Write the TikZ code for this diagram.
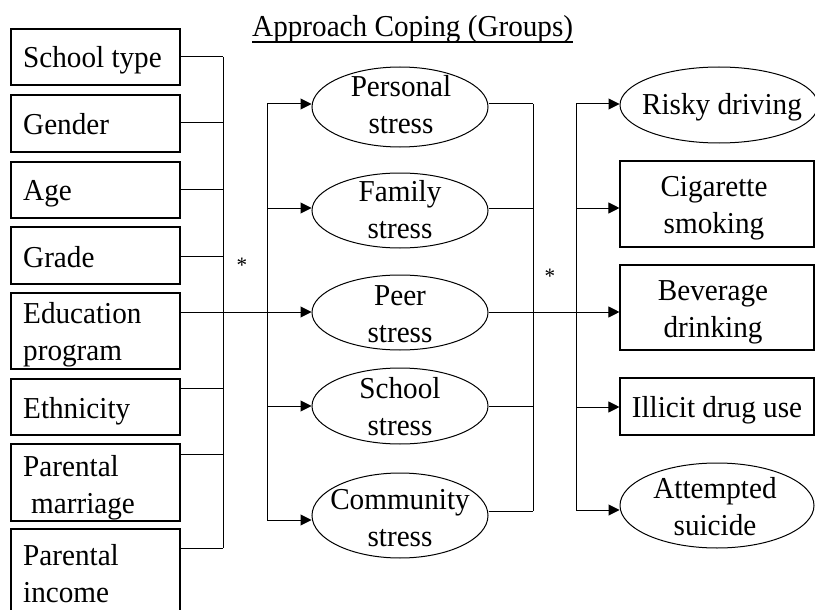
\documentclass[tikz,border=0pt]{standalone}
\usepackage{fontspec}
\setmainfont{Liberation Serif}[FakeStretch=0.96]
\usetikzlibrary{arrows.meta,shapes.geometric,calc}
\begin{document}
\begin{tikzpicture}[x=1pt,y=-1pt,
  every node/.style={font=\fontsize{30.4}{36.5}\selectfont},
  box/.style={draw,line width=1.1pt,rectangle,inner sep=0,minimum width=169pt},
  ell/.style={draw,line width=1pt,ellipse,inner sep=0},
  lbl/.style={inner sep=0,anchor=base west,align=left},
  clbl/.style={inner sep=0,anchor=base,align=center},
  starlbl/.style={inner sep=0,font=\fontsize{22}{26}\selectfont},
  wire/.style={line width=1pt},
  arr/.style={wire,-{Triangle[length=11pt,width=11pt]}}]
\useasboundingbox (0,0) rectangle (815,610);
\clip (0,0) rectangle (815,610);

% title
\node[inner sep=0,anchor=base west] (title) at (252,37) {Approach Coping (Groups)};
\draw[line width=1.3pt] ($(title.base west)+(0,5)$) -- ($(title.base east)+(0,5)$);

% left boxes
\node[box,minimum height=56pt] (st)  at (95.5,57)    {};
\node[box,minimum height=57pt] (gen) at (95.5,123.5) {};
\node[box,minimum height=56pt] (age) at (95.5,190)   {};
\node[box,minimum height=57pt] (grd) at (95.5,255.5) {};
\node[box,minimum height=76pt] (edu) at (95.5,331)   {};
\node[box,minimum height=56pt] (eth) at (95.5,407)   {};
\node[box,minimum height=77pt] (pm)  at (95.5,482.5) {};
\node[box,minimum height=96pt] (pi)  at (95.5,577)   {};

% (base of multi-line labels = baseline of last line)
\node[lbl] (tst)  at (23,68)  {School type};
\node[lbl] (tgen) at (23,135) {Gender};
\node[lbl] (tage) at (23,200) {Age};
\node[lbl] (tgrd) at (23,267) {Grade};
\node[lbl] (tedu) at (23,360) {Education\\program};
\node[lbl] (teth) at (23,418) {Ethnicity};
\node[lbl] (tpm)  at (23,513) {Parental\\\hspace*{8pt}marriage};
\node[lbl] (tpi)  at (23,602) {Parental\\income};

% stress ellipses
\node[ell,minimum width=176pt,minimum height=80pt] (pers) at (400,107)   {};
\node[ell,minimum width=176pt,minimum height=75pt] (fam)  at (400,210.5) {};
\node[ell,minimum width=176pt,minimum height=75pt] (peer) at (400,312.5) {};
\node[ell,minimum width=176pt,minimum height=76pt] (sch)  at (400,406)   {};
\node[ell,minimum width=176pt,minimum height=85pt] (com)  at (400,515.5) {};

\node[clbl] (tpers) at (401,133) {Personal\\stress};
\node[clbl] (tfam)  at (400,238) {Family\\stress};
\node[clbl] (tpeer) at (400,342) {Peer\\stress};
\node[clbl] (tsch)  at (400,435) {School\\stress};
\node[clbl] (tcom)  at (400,546) {Community\\stress};

% outcomes
\node[ell,minimum width=198pt,minimum height=76pt] (risk) at (719,105)   {};
\node[box,minimum width=194pt,minimum height=86pt] (cig)  at (717,204)   {};
\node[box,minimum width=194pt,minimum height=85pt] (bev)  at (717,307.5) {};
\node[box,minimum width=194pt,minimum height=57pt] (ill)  at (717,406.5) {};
\node[ell,minimum width=194pt,minimum height=85pt] (att)  at (717,505.5) {};

\node[clbl] (trisk) at (722,115) {Risky driving};
\node[clbl] (tcig)  at (714,233) {Cigarette\\smoking};
\node[clbl] (tbev)  at (713,337) {Beverage\\drinking};
\node[clbl] (till)  at (717,417) {Illicit drug use};
\node[clbl] (tatt)  at (715,535) {Attempted\\suicide};

% stars
\node[starlbl] (star1) at (242,265) {*};
\node[starlbl] (star2) at (550,276) {*};

% bus coordinates
\coordinate (a1) at (223,57);
\coordinate (a2) at (223,123);
\coordinate (a3) at (223,189);
\coordinate (a4) at (223,256);
\coordinate (a5) at (223,312);
\coordinate (a6) at (223,388);
\coordinate (a7) at (223,454);
\coordinate (a8) at (223,548);

\coordinate (s1) at (267,104);
\coordinate (s2) at (267,208);
\coordinate (s3) at (267,312);
\coordinate (s4) at (267,406);
\coordinate (s5) at (267,520);

\coordinate (t1) at (533,104);
\coordinate (t2) at (533,208);
\coordinate (t3) at (533,312);
\coordinate (t4) at (533,406);
\coordinate (t5) at (533,511);

\coordinate (o1) at (576,104);
\coordinate (o2) at (576,208);
\coordinate (o3) at (576,312);
\coordinate (o4) at (576,407);
\coordinate (o5) at (576,510);

% left bus
\draw[wire] (a1) -- (a8);
\draw[wire] (st.east  |- a1) -- (a1);
\draw[wire] (gen.east |- a2) -- (a2);
\draw[wire] (age.east |- a3) -- (a3);
\draw[wire] (grd.east |- a4) -- (a4);
\draw[wire] (edu.east |- a5) -- (a5);
\draw[wire] (eth.east |- a6) -- (a6);
\draw[wire] (pm.east  |- a7) -- (a7);
\draw[wire] (pi.east  |- a8) -- (a8);
\draw[wire] (a5) -- (s3);

% stress left bus
\draw[wire] (s1) -- (s5);
\draw[arr] (s1) -- (s1 -| pers.west);
\draw[arr] (s2) -- (s2 -| fam.west);
\draw[arr] (s3) -- (s3 -| peer.west);
\draw[arr] (s4) -- (s4 -| sch.west);
\draw[arr] (s5) -- (s5 -| com.west);

% stress right bus
\draw[wire] (t1) -- (t5);
\draw[wire] (t1 -| pers.east) -- (t1);
\draw[wire] (t2 -| fam.east)  -- (t2);
\draw[wire] (t3 -| peer.east) -- (t3);
\draw[wire] (t4 -| sch.east)  -- (t4);
\draw[wire] (t5 -| com.east)  -- (t5);
\draw[wire] (t3) -- (o3);

% outcome bus
\draw[wire] (o1) -- (o5);
\draw[arr] (o1) -- (o1 -| risk.west);
\draw[arr] (o2) -- (o2 -| cig.west);
\draw[arr] (o3) -- (o3 -| bev.west);
\draw[arr] (o4) -- (o4 -| ill.west);
\draw[arr] (o5) -- (o5 -| att.west);
\end{tikzpicture}
\end{document}
